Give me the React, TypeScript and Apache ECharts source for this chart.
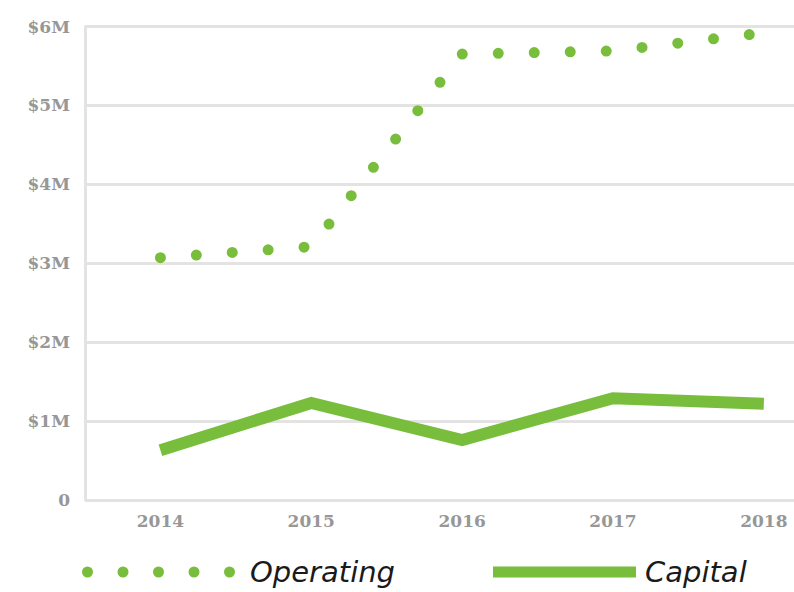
import React, { useEffect, useRef } from "react";
import * as echarts from "echarts";

const years = [2014, 2015, 2016, 2017, 2018];
const operating = [3.07, 3.21, 5.65, 5.69, 5.92]; // $M
const capital = [0.63, 1.23, 0.76, 1.29, 1.22]; // $M
const seriesNames = ["Operating", "Capital"];

const GREEN = "#78be3c";
const GRID = "#e3e3e3";
const LABEL = "#979797";

function dotsPath(n: number, r: number, gap: number) {
  let d = "path://";
  for (let i = 0; i < n; i++) {
    const cx = r + i * gap;
    d += `M${cx - r},${r}a${r},${r} 0 1,0 ${2 * r},0a${r},${r} 0 1,0 ${-2 * r},0Z`;
  }
  return d;
}

export default function App() {
  const ref = useRef<HTMLDivElement>(null);
  useEffect(() => {
    if (!ref.current) return;
    const chart = echarts.init(ref.current, undefined, { renderer: "svg" });
    const axisFont = {
      fontFamily: "DejaVu Serif",
      fontWeight: "bold" as const,
      fontSize: 17,
      color: LABEL,
    };
    const legendText = {
      fontFamily: "DejaVu Sans",
      fontStyle: "italic" as const,
      fontSize: 29,
      color: "#1a1a1a",
    };
    chart.setOption({
      animation: false,
      backgroundColor: "#ffffff",
      grid: { left: 85, right: 0, top: 26.5, bottom: 92 },
      xAxis: {
        type: "value",
        min: 2013.5,
        max: 2018.2,
        axisLine: { show: false },
        axisTick: { show: false },
        splitLine: { show: false },
        axisLabel: {
          ...axisFont,
          margin: 12,
          customValues: years,
          formatter: (v: number) => String(v),
        },
      },
      yAxis: {
        type: "value",
        min: 0,
        max: 6,
        interval: 1,
        axisLine: { show: true, lineStyle: { color: GRID, width: 3 } },
        axisTick: { show: false },
        splitLine: { show: true, lineStyle: { color: GRID, width: 3 } },
        axisLabel: {
          ...axisFont,
          margin: 15,
          padding: [0, 0, 8, 0],
          formatter: (v: number) => (v === 0 ? "0" : `$${v}M`),
        },
      },
      legend: [
        {
          data: [
            {
              name: seriesNames[0],
              icon: dotsPath(5, 5.5, 35.5),
              itemStyle: { color: GREEN, borderWidth: 0 },
            },
          ],
          left: 82,
          top: 557.5,
          padding: 0,
          itemWidth: 153,
          itemHeight: 11,
          textStyle: { ...legendText, padding: [0, 0, 0, 10] },
        },
        {
          data: [
            {
              name: seriesNames[1],
              icon: "rect",
              itemStyle: { color: GREEN, borderWidth: 0 },
            },
          ],
          left: 493,
          top: 557.5,
          padding: 0,
          itemWidth: 143,
          itemHeight: 11,
          textStyle: { ...legendText, padding: [0, 0, 0, 4] },
        },
      ],
      series: [
        {
          name: seriesNames[0],
          type: "line",
          data: years.map((y, i) => [y, operating[i]]),
          showSymbol: false,
          clip: false,
          itemStyle: { color: GREEN },
          lineStyle: {
            color: GREEN,
            width: 11,
            type: [0, 36],
            cap: "round",
          },
          z: 3,
        },
        {
          name: seriesNames[1],
          type: "line",
          data: years.map((y, i) => [y, capital[i]]),
          showSymbol: false,
          clip: false,
          itemStyle: { color: GREEN },
          lineStyle: { color: GREEN, width: 12, join: "miter", cap: "butt" },
          z: 3,
        },
      ],
    });
    return () => chart.dispose();
  }, []);
  return (
    <div
      ref={ref}
      style={{ position: "fixed", left: 0, top: 0, width: 794, height: 592 }}
    />
  );
}
